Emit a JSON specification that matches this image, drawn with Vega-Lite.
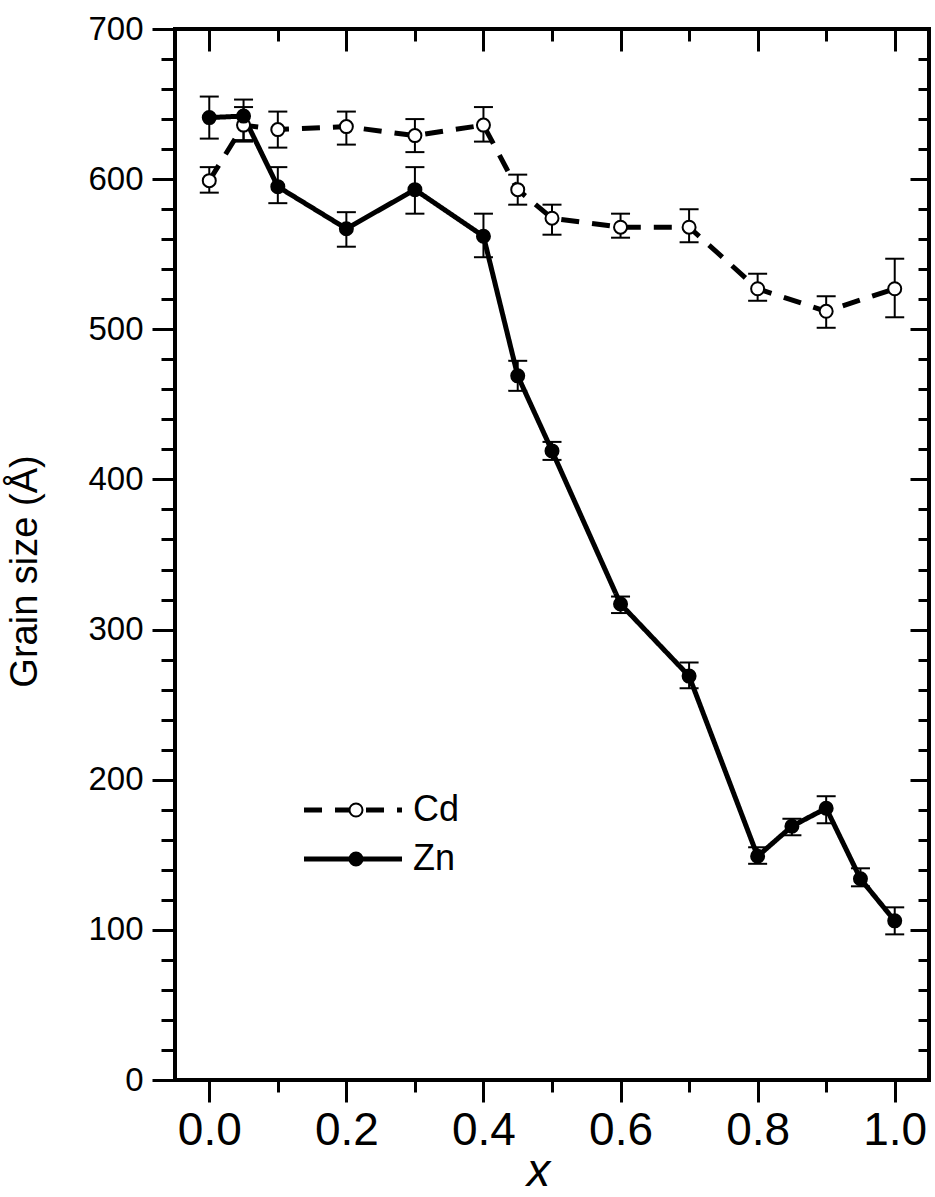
{
  "$schema": "https://vega.github.io/schema/vega-lite/v6.json",
  "width": 754,
  "height": 1051,
  "autosize": "none",
  "padding": {"left": 175, "top": 29, "right": 6, "bottom": 117},
  "background": "white",
  "config": {
    "view": {"stroke": "black", "strokeWidth": 4},
    "font": "Liberation Sans",
    "axis": {"labelFont": "Liberation Sans", "titleFont": "Liberation Sans", "labelColor": "black", "titleColor": "black", "tickColor": "black", "tickWidth": 3, "domain": false, "grid": false, "labelOverlap": false, "labelFlush": false},
    "legend": {"labelFont": "Liberation Sans", "labelColor": "black", "padding": 0}
  },
  "data": {
    "values": [
      {"series": "Cd", "x": 0.0, "size": 599, "lo": 591, "hi": 608},
      {"series": "Cd", "x": 0.05, "size": 636, "lo": 625, "hi": 648},
      {"series": "Cd", "x": 0.1, "size": 633, "lo": 621, "hi": 645},
      {"series": "Cd", "x": 0.2, "size": 635, "lo": 623, "hi": 645},
      {"series": "Cd", "x": 0.3, "size": 629, "lo": 618, "hi": 640},
      {"series": "Cd", "x": 0.4, "size": 636, "lo": 625, "hi": 648},
      {"series": "Cd", "x": 0.45, "size": 593, "lo": 583, "hi": 603},
      {"series": "Cd", "x": 0.5, "size": 574, "lo": 563, "hi": 583},
      {"series": "Cd", "x": 0.6, "size": 568, "lo": 561, "hi": 577},
      {"series": "Cd", "x": 0.7, "size": 568, "lo": 558, "hi": 580},
      {"series": "Cd", "x": 0.8, "size": 527, "lo": 519, "hi": 537},
      {"series": "Cd", "x": 0.9, "size": 512, "lo": 501, "hi": 522},
      {"series": "Cd", "x": 1.0, "size": 527, "lo": 508, "hi": 547},
      {"series": "Zn", "x": 0.0, "size": 641, "lo": 627, "hi": 655},
      {"series": "Zn", "x": 0.05, "size": 642, "lo": 626, "hi": 653},
      {"series": "Zn", "x": 0.1, "size": 595, "lo": 584, "hi": 608},
      {"series": "Zn", "x": 0.2, "size": 567, "lo": 555, "hi": 578},
      {"series": "Zn", "x": 0.3, "size": 593, "lo": 577, "hi": 608},
      {"series": "Zn", "x": 0.4, "size": 562, "lo": 548, "hi": 577},
      {"series": "Zn", "x": 0.45, "size": 469, "lo": 459, "hi": 479},
      {"series": "Zn", "x": 0.5, "size": 419, "lo": 413, "hi": 425},
      {"series": "Zn", "x": 0.6, "size": 317, "lo": 311, "hi": 322},
      {"series": "Zn", "x": 0.7, "size": 269, "lo": 261, "hi": 278},
      {"series": "Zn", "x": 0.8, "size": 149, "lo": 144, "hi": 155},
      {"series": "Zn", "x": 0.85, "size": 169, "lo": 163, "hi": 174},
      {"series": "Zn", "x": 0.9, "size": 181, "lo": 171, "hi": 189},
      {"series": "Zn", "x": 0.95, "size": 134, "lo": 129, "hi": 141},
      {"series": "Zn", "x": 1.0, "size": 106, "lo": 97, "hi": 115}
    ]
  },
  "layer": [
    {
      "mark": {"type": "line", "color": "black", "strokeWidth": 5},
      "encoding": {
        "x": {"field": "x", "type": "quantitative", "scale": {"domain": [-0.05, 1.05], "nice": false, "zero": false},
          "axis": {"orient": "bottom", "values": [0, 0.2, 0.4, 0.6, 0.8, 1.0], "format": ".1f", "tickSize": 22, "labelFontSize": 46, "labelPadding": 6,
            "title": "x", "titleFontSize": 47, "titleFontStyle": "italic", "titleFontWeight": "normal", "titleX": 363, "titleY": 105, "titleBaseline": "alphabetic", "titleAlign": "center"}},
        "y": {"field": "size", "type": "quantitative", "scale": {"domain": [0, 700], "nice": false},
          "axis": {"orient": "left", "values": [0, 100, 200, 300, 400, 500, 600, 700], "tickSize": 23, "labelFontSize": 33, "labelPadding": 9,
            "title": "Grain size (Å)", "titleFontSize": 38, "titleFontWeight": "normal", "titleX": -139, "titleY": 542, "titleBaseline": "alphabetic", "titleAngle": 270, "titleAlign": "center"}},
        "strokeDash": {"field": "series", "type": "nominal", "scale": {"domain": ["Cd", "Zn"], "range": [[18, 13], [1, 0]]},
          "legend": {"orient": "none", "legendX": 160, "legendY": 763, "title": null, "symbolType": "M-4,0H4", "symbolSize": 600, "symbolStrokeWidth": 5, "symbolStrokeColor": "black", "labelFontSize": 36, "labelOffset": 42, "rowPadding": 13}}
      }
    },
    {
      "mark": {"type": "rule", "color": "black", "strokeWidth": 2},
      "encoding": {
        "x": {"field": "x", "type": "quantitative", "scale": {"domain": [-0.05, 1.05], "nice": false, "zero": false},
          "axis": {"orient": "bottom", "values": [0.1, 0.3, 0.5, 0.7, 0.9], "tickSize": 12, "labels": false, "title": null}},
        "y": {"field": "lo", "type": "quantitative", "scale": {"domain": [0, 700], "nice": false},
          "axis": {"orient": "left", "values": [20, 40, 60, 80, 120, 140, 160, 180, 220, 240, 260, 280, 320, 340, 360, 380, 420, 440, 460, 480, 520, 540, 560, 580, 620, 640, 660, 680], "tickSize": 14, "labels": false, "title": null}},
        "y2": {"field": "hi"}
      }
    },
    {
      "mark": {"type": "tick", "orient": "horizontal", "color": "black", "size": 19, "thickness": 2, "opacity": 1},
      "encoding": {
        "x": {"field": "x", "type": "quantitative", "scale": {"domain": [-0.05, 1.05], "nice": false, "zero": false},
          "axis": {"orient": "top", "values": [0, 0.2, 0.4, 0.6, 0.8, 1.0], "tickSize": -22, "labels": false, "title": null}},
        "y": {"field": "lo", "type": "quantitative", "scale": {"domain": [0, 700], "nice": false},
          "axis": {"orient": "right", "values": [0, 100, 200, 300, 400, 500, 600, 700], "tickSize": -19, "labels": false, "title": null}}
      }
    },
    {
      "mark": {"type": "tick", "orient": "horizontal", "color": "black", "size": 19, "thickness": 2, "opacity": 1},
      "encoding": {
        "x": {"field": "x", "type": "quantitative", "scale": {"domain": [-0.05, 1.05], "nice": false, "zero": false},
          "axis": {"orient": "top", "values": [0.1, 0.3, 0.5, 0.7, 0.9], "tickSize": -12, "labels": false, "title": null}},
        "y": {"field": "hi", "type": "quantitative", "scale": {"domain": [0, 700], "nice": false},
          "axis": {"orient": "right", "values": [20, 40, 60, 80, 120, 140, 160, 180, 220, 240, 260, 280, 320, 340, 360, 380, 420, 440, 460, 480, 520, 540, 560, 580, 620, 640, 660, 680], "tickSize": -11, "labels": false, "title": null}}
      }
    },
    {
      "transform": [{"calculate": "datum.series", "as": "sample"}],
      "mark": {"type": "point", "shape": "circle", "filled": true, "size": 169, "stroke": "black", "strokeWidth": 2, "opacity": 1},
      "encoding": {
        "x": {"field": "x", "type": "quantitative", "scale": {"domain": [-0.05, 1.05], "nice": false, "zero": false}, "axis": null},
        "y": {"field": "size", "type": "quantitative", "scale": {"domain": [0, 700], "nice": false}, "axis": null},
        "fill": {"field": "sample", "type": "nominal", "scale": {"range": ["white", "black"]},
          "legend": {"orient": "none", "legendX": 163, "legendY": 763, "title": null, "symbolType": "circle", "symbolSize": 169, "symbolStrokeWidth": 2, "symbolStrokeColor": "black", "labelExpr": "''", "labelFontSize": 36, "rowPadding": 13}}
      }
    }
  ],
  "resolve": {"axis": {"x": "independent", "y": "independent"}}
}
